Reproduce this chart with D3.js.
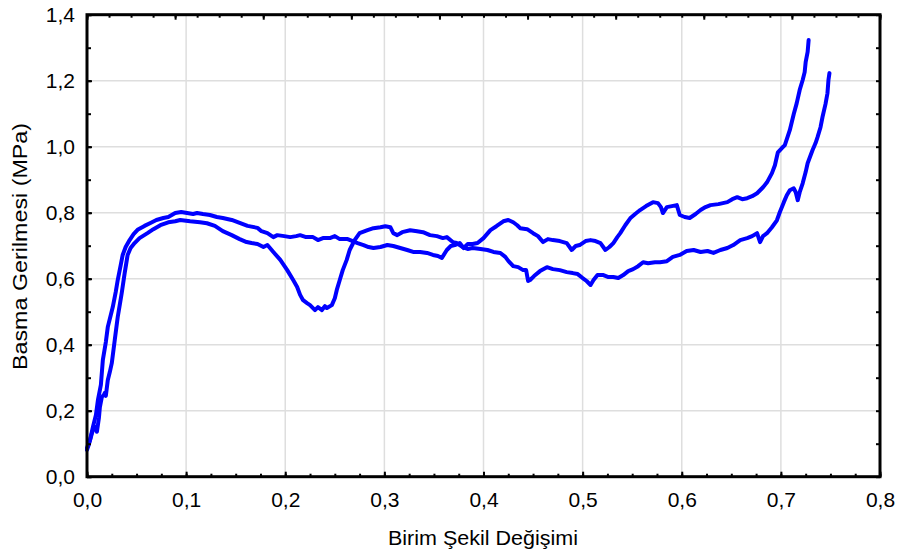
<!DOCTYPE html>
<html>
<head>
<meta charset="utf-8">
<script src="https://cdn.jsdelivr.net/npm/d3@7/dist/d3.min.js"></script>
<style>
  html, body { margin: 0; padding: 0; background: #fff; }
  svg { display: block; }
  text { font-family: "Liberation Sans", Arial, sans-serif; fill: #000; }
</style>
</head>
<body>
<svg id="chart" width="898" height="558"></svg>
<script>
// Stress–strain records of two specimens (strain, stress in MPa)
const strain1 = [0.000,0.003,0.006,0.009,0.011,0.014,0.016,0.019,0.021,0.024,0.026,0.029,0.031,0.034,0.036,0.039,0.043,0.047,0.051,0.058,0.064,0.070,0.077,0.082,0.089,0.095,0.101,0.107,0.111,0.117,0.124,0.131,0.137,0.146,0.154,0.162,0.172,0.176,0.182,0.188,0.192,0.199,0.205,0.211,0.215,0.221,0.228,0.233,0.238,0.245,0.250,0.255,0.263,0.268,0.273,0.279,0.284,0.289,0.296,0.303,0.309,0.316,0.323,0.329,0.336,0.343,0.349,0.354,0.358,0.363,0.367,0.371,0.376,0.380,0.384,0.389,0.394,0.400,0.407,0.413,0.420,0.425,0.430,0.434,0.437,0.444,0.450,0.455,0.460,0.465,0.470,0.477,0.484,0.489,0.493,0.497,0.503,0.508,0.513,0.518,0.523,0.527,0.531,0.535,0.538,0.543,0.548,0.553,0.558,0.564,0.571,0.576,0.579,0.581,0.585,0.590,0.595,0.598,0.603,0.608,0.614,0.619,0.624,0.629,0.637,0.646,0.651,0.656,0.661,0.666,0.671,0.676,0.682,0.686,0.691,0.694,0.697,0.701,0.704,0.707,0.709,0.713,0.716,0.719,0.722,0.724,0.725,0.727,0.728];
const stress1 = [0.087,0.111,0.151,0.187,0.232,0.278,0.354,0.408,0.454,0.490,0.514,0.560,0.596,0.641,0.672,0.696,0.717,0.735,0.748,0.760,0.769,0.778,0.784,0.787,0.799,0.802,0.799,0.796,0.799,0.796,0.793,0.787,0.784,0.778,0.769,0.760,0.754,0.744,0.738,0.726,0.732,0.729,0.726,0.729,0.732,0.726,0.726,0.717,0.723,0.723,0.729,0.720,0.720,0.714,0.708,0.702,0.696,0.693,0.696,0.702,0.699,0.693,0.687,0.681,0.681,0.678,0.672,0.669,0.663,0.687,0.699,0.702,0.708,0.693,0.705,0.705,0.708,0.723,0.747,0.759,0.774,0.778,0.771,0.762,0.753,0.750,0.738,0.729,0.711,0.720,0.717,0.714,0.708,0.687,0.699,0.702,0.714,0.717,0.714,0.708,0.687,0.696,0.708,0.726,0.738,0.762,0.783,0.796,0.808,0.820,0.832,0.829,0.817,0.799,0.817,0.820,0.823,0.793,0.787,0.784,0.796,0.808,0.817,0.823,0.826,0.832,0.841,0.847,0.841,0.844,0.850,0.859,0.877,0.892,0.920,0.944,0.983,0.996,1.005,1.032,1.050,1.099,1.132,1.172,1.202,1.226,1.256,1.287,1.323];

const strain2 = [0.000,0.002,0.005,0.007,0.009,0.010,0.012,0.013,0.015,0.017,0.018,0.019,0.021,0.023,0.025,0.028,0.031,0.033,0.035,0.038,0.041,0.044,0.048,0.053,0.061,0.067,0.074,0.082,0.089,0.094,0.104,0.114,0.121,0.129,0.137,0.146,0.154,0.161,0.166,0.172,0.178,0.182,0.188,0.195,0.202,0.208,0.212,0.215,0.218,0.222,0.225,0.230,0.233,0.237,0.240,0.242,0.247,0.250,0.252,0.255,0.258,0.262,0.265,0.270,0.275,0.283,0.289,0.296,0.301,0.306,0.309,0.313,0.318,0.326,0.333,0.339,0.346,0.353,0.359,0.363,0.369,0.373,0.379,0.384,0.389,0.397,0.404,0.410,0.417,0.422,0.425,0.430,0.435,0.440,0.443,0.445,0.447,0.451,0.457,0.464,0.470,0.477,0.484,0.490,0.495,0.500,0.504,0.508,0.511,0.515,0.521,0.526,0.531,0.536,0.541,0.546,0.551,0.556,0.561,0.566,0.573,0.578,0.585,0.591,0.598,0.605,0.612,0.619,0.626,0.632,0.639,0.646,0.652,0.659,0.666,0.671,0.676,0.679,0.682,0.686,0.691,0.696,0.699,0.703,0.706,0.709,0.713,0.715,0.717,0.719,0.722,0.725,0.727,0.730,0.732,0.735,0.737,0.740,0.742,0.745,0.747,0.748,0.749];
const stress2 = [0.081,0.099,0.132,0.148,0.151,0.136,0.178,0.211,0.242,0.248,0.254,0.245,0.293,0.317,0.344,0.414,0.484,0.520,0.556,0.617,0.672,0.693,0.708,0.723,0.738,0.750,0.762,0.771,0.774,0.778,0.774,0.771,0.768,0.760,0.744,0.732,0.720,0.711,0.708,0.705,0.696,0.702,0.681,0.657,0.626,0.596,0.575,0.551,0.535,0.526,0.520,0.505,0.514,0.505,0.517,0.511,0.520,0.541,0.566,0.596,0.626,0.657,0.687,0.717,0.738,0.747,0.753,0.756,0.759,0.756,0.738,0.732,0.741,0.747,0.744,0.741,0.732,0.729,0.723,0.726,0.711,0.708,0.696,0.690,0.693,0.690,0.687,0.681,0.678,0.666,0.654,0.638,0.635,0.626,0.626,0.593,0.596,0.608,0.623,0.635,0.629,0.626,0.620,0.617,0.614,0.602,0.593,0.581,0.596,0.611,0.611,0.605,0.605,0.602,0.611,0.623,0.629,0.638,0.650,0.647,0.650,0.650,0.653,0.666,0.672,0.684,0.687,0.681,0.684,0.678,0.687,0.693,0.702,0.717,0.723,0.729,0.738,0.711,0.729,0.738,0.756,0.777,0.802,0.832,0.853,0.868,0.874,0.862,0.838,0.862,0.889,0.923,0.950,0.974,0.990,1.011,1.029,1.059,1.090,1.129,1.162,1.202,1.223];

// Axis ticks
const xMajor = [0, 0.1, 0.2, 0.3, 0.4, 0.5, 0.6, 0.7, 0.8];
const yMajor = [0, 0.2, 0.4, 0.6, 0.8, 1.0, 1.2, 1.4];
const xGrid = [0.1, 0.2, 0.3, 0.4, 0.5, 0.6, 0.7];
const yGrid = [0.2, 0.4, 0.6, 0.8, 1.0, 1.2];

const xTitle = "Birim Şekil Değişimi";
const yTitle = "Basma Gerilmesi (MPa)";

const svg = d3.select("#chart");
const plotLeft = 87, plotRight = 880, plotTop = 14.7, plotBottom = 476.7;

const x = d3.scaleLinear().domain([0, 0.8]).range([plotLeft, plotRight]);
const y = d3.scaleLinear().domain([0, 1.4]).range([plotBottom, plotTop]);
// the upper frame edge carries its own, finer division
const xTop = d3.scaleLinear().domain([0, 0.9]).range([plotLeft, plotRight]);

const fmt = d3.formatLocale({decimal: ",", thousands: ".", grouping: [3], currency: ["", ""]}).format(".1f");

const steps = (a, b, s) => d3.range(Math.round((b - a) / s) + 1).map(i => +(a + i * s).toFixed(4));

// gridlines
svg.append("g").selectAll("line").data(xGrid).join("line")
  .attr("x1", d => x(d)).attr("x2", d => x(d)).attr("y1", plotTop).attr("y2", plotBottom)
  .attr("stroke", "#dedede").attr("stroke-width", 1.5);
svg.append("g").selectAll("line").data(yGrid).join("line")
  .attr("x1", plotLeft).attr("x2", plotRight).attr("y1", d => y(d)).attr("y2", d => y(d))
  .attr("stroke", "#dedede").attr("stroke-width", 1.5);

// curves
const line = d3.line().x(d => x(d[0])).y(d => y(d[1]));
const series = [d3.zip(strain2, stress2), d3.zip(strain1, stress1)];
svg.append("g").selectAll("path").data(series).join("path")
  .attr("d", line)
  .attr("fill", "none")
  .attr("stroke", "#0000ff")
  .attr("stroke-width", 4)
  .attr("stroke-linejoin", "round")
  .attr("stroke-linecap", "round");

function styleAxis(g) {
  g.select(".domain").remove();
  g.selectAll(".tick line").attr("stroke", "#000").attr("stroke-width", 2);
  g.selectAll("text").attr("font-size", 21).attr("font-family", "Liberation Sans, Arial, sans-serif");
}

// bottom
svg.append("g").attr("transform", `translate(0,${plotBottom})`)
  .call(d3.axisBottom(x).tickValues(steps(0, 0.8, 0.025)).tickSize(-3).tickFormat(""))
  .call(styleAxis);
svg.append("g").attr("transform", `translate(0,${plotBottom})`)
  .call(d3.axisBottom(x).tickValues(xMajor).tickSize(-5).tickPadding(15).tickFormat(fmt))
  .call(styleAxis);
// left
svg.append("g").attr("transform", `translate(${plotLeft},0)`)
  .call(d3.axisLeft(y).tickValues(steps(0, 1.4, 0.1)).tickSize(-4).tickFormat(""))
  .call(styleAxis);
svg.append("g").attr("transform", `translate(${plotLeft},0)`)
  .call(d3.axisLeft(y).tickValues(yMajor).tickSize(-5).tickPadding(12).tickFormat(fmt))
  .call(styleAxis);
// right
svg.append("g").attr("transform", `translate(${plotRight},0)`)
  .call(d3.axisRight(y).tickValues(steps(0, 1.4, 0.1)).tickSize(-4).tickFormat(""))
  .call(styleAxis);
// top
svg.append("g").attr("transform", `translate(0,${plotTop})`)
  .call(d3.axisTop(xTop).tickValues(steps(0, 0.9, 0.025)).tickSize(-3).tickFormat(""))
  .call(styleAxis);
svg.append("g").attr("transform", `translate(0,${plotTop})`)
  .call(d3.axisTop(xTop).tickValues(steps(0, 0.9, 0.1)).tickSize(-5).tickFormat(""))
  .call(styleAxis);

// frame
svg.append("rect")
  .attr("x", plotLeft).attr("y", plotTop).attr("width", plotRight - plotLeft).attr("height", plotBottom - plotTop)
  .attr("fill", "none").attr("stroke", "#000").attr("stroke-width", 3);

// titles
svg.append("text")
  .attr("x", (388 + 578) / 2).attr("y", 545)
  .attr("text-anchor", "middle").attr("font-size", 20)
  .attr("textLength", 190).attr("lengthAdjust", "spacingAndGlyphs")
  .text(xTitle);
svg.append("text")
  .attr("transform", "translate(27,246.5) rotate(-90)")
  .attr("text-anchor", "middle").attr("font-size", 20)
  .attr("textLength", 247).attr("lengthAdjust", "spacingAndGlyphs")
  .text(yTitle);
</script>
</body>
</html>
